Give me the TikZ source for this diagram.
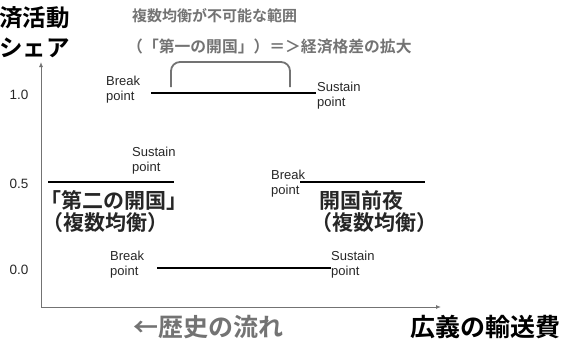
\documentclass[tikz,border=0pt]{standalone}
\usepackage{fontspec}
\usetikzlibrary{arrows.meta}
\setmainfont{Liberation Sans}
\newfontfamily\jp{Noto Sans CJK JP}[BoldFont={Noto Sans CJK JP Bold}]
\begin{document}
\begin{tikzpicture}[x=1pt,y=-1pt,
  lbl/.style={inner sep=0pt,anchor=west,align=left,text=black!85,font=\fontsize{13}{15}\selectfont},
  num/.style={inner sep=0pt,text=black!85,font=\fontsize{13.5}{15}\selectfont},
  big/.style={inner sep=0pt,anchor=west,font=\jp\bfseries\fontsize{23.5}{26}\selectfont},
  gray/.style={inner sep=0pt,anchor=west,text=black!55,font=\jp\bfseries\fontsize{15}{18}\selectfont},
  mid/.style={inner sep=0pt,anchor=west,text=black!85,font=\jp\bfseries\fontsize{21}{24}\selectfont},
  eq/.style={line width=2pt,black},
  axis/.style={draw=black!55,line width=0.9pt,-{Latex[length=5pt,width=4pt]}}
]
\useasboundingbox (0,0) rectangle (563,340);
% axes
\coordinate (O) at (41,307);
\coordinate (Ytop) at (41,62);
\coordinate (Xend) at (441,307);
\draw[axis] (O) -- (Ytop);
\draw[axis] (O) -- (Xend);
% titles
\node[big] (t1) at (-1,18) {済活動};
\node[big] (t2) at (-1,48) {シェア};
\node[gray] (g1) at (132,16) {複数均衡が不可能な範囲};
\node[gray,font=\jp\bfseries\fontsize{15.8}{18}\selectfont] (g2) at (127,46) {（「第一の開国」）＝＞経済格差の拡大};
% numbers
\node[num] (n1) at (19,95) {1.0};
\node[num] (n2) at (19,184) {0.5};
\node[num] (n3) at (19,270) {0.0};
% lines
\coordinate (a1) at (151,93); \coordinate (a2) at (316,93);
\coordinate (b1) at (48,182); \coordinate (b2) at (174,182);
\coordinate (c1) at (300,182); \coordinate (c2) at (425,182);
\coordinate (d1) at (157,268); \coordinate (d2) at (331,268);
\draw[eq] (a1) -- (a2);
\draw[eq] (b1) -- (b2);
\draw[eq] (c1) -- (c2);
\draw[eq] (d1) -- (d2);
% bracket
\coordinate (k1) at (171,87); \coordinate (k2) at (290,87);
\draw[black!55,line width=1.8pt,rounded corners=9pt] (k1) -- (171,62) -- (290,62) -- (k2);
% point labels
\node[lbl] (bp1) at (106,90) {Break\\point};
\node[lbl] (sp1) at (317,96) {Sustain\\point};
\node[lbl] (sp2) at (132,161) {Sustain\\point};
\node[lbl] (bp2) at (271,184) {Break\\point};
\node[lbl] (bp3) at (110,265) {Break\\point};
\node[lbl] (sp3) at (331,265) {Sustain\\point};
% region labels
\node[mid] (r1) at (40,200) {「第二の開国」};
\node[mid] (r2) at (42,223) {（複数均衡）};
\node[mid] (r3) at (319,200) {開国前夜};
\node[mid] (r4) at (311,223) {（複数均衡）};
% bottom
\node[inner sep=0pt,anchor=west,text=black!55,font=\jp\bfseries\fontsize{25}{28}\selectfont] (h) at (133,327) {←歴史の流れ};
\node[inner sep=0pt,anchor=west,font=\jp\bfseries\fontsize{25}{28}\selectfont] (x) at (410,327) {広義の輸送費};
\end{tikzpicture}
\end{document}
